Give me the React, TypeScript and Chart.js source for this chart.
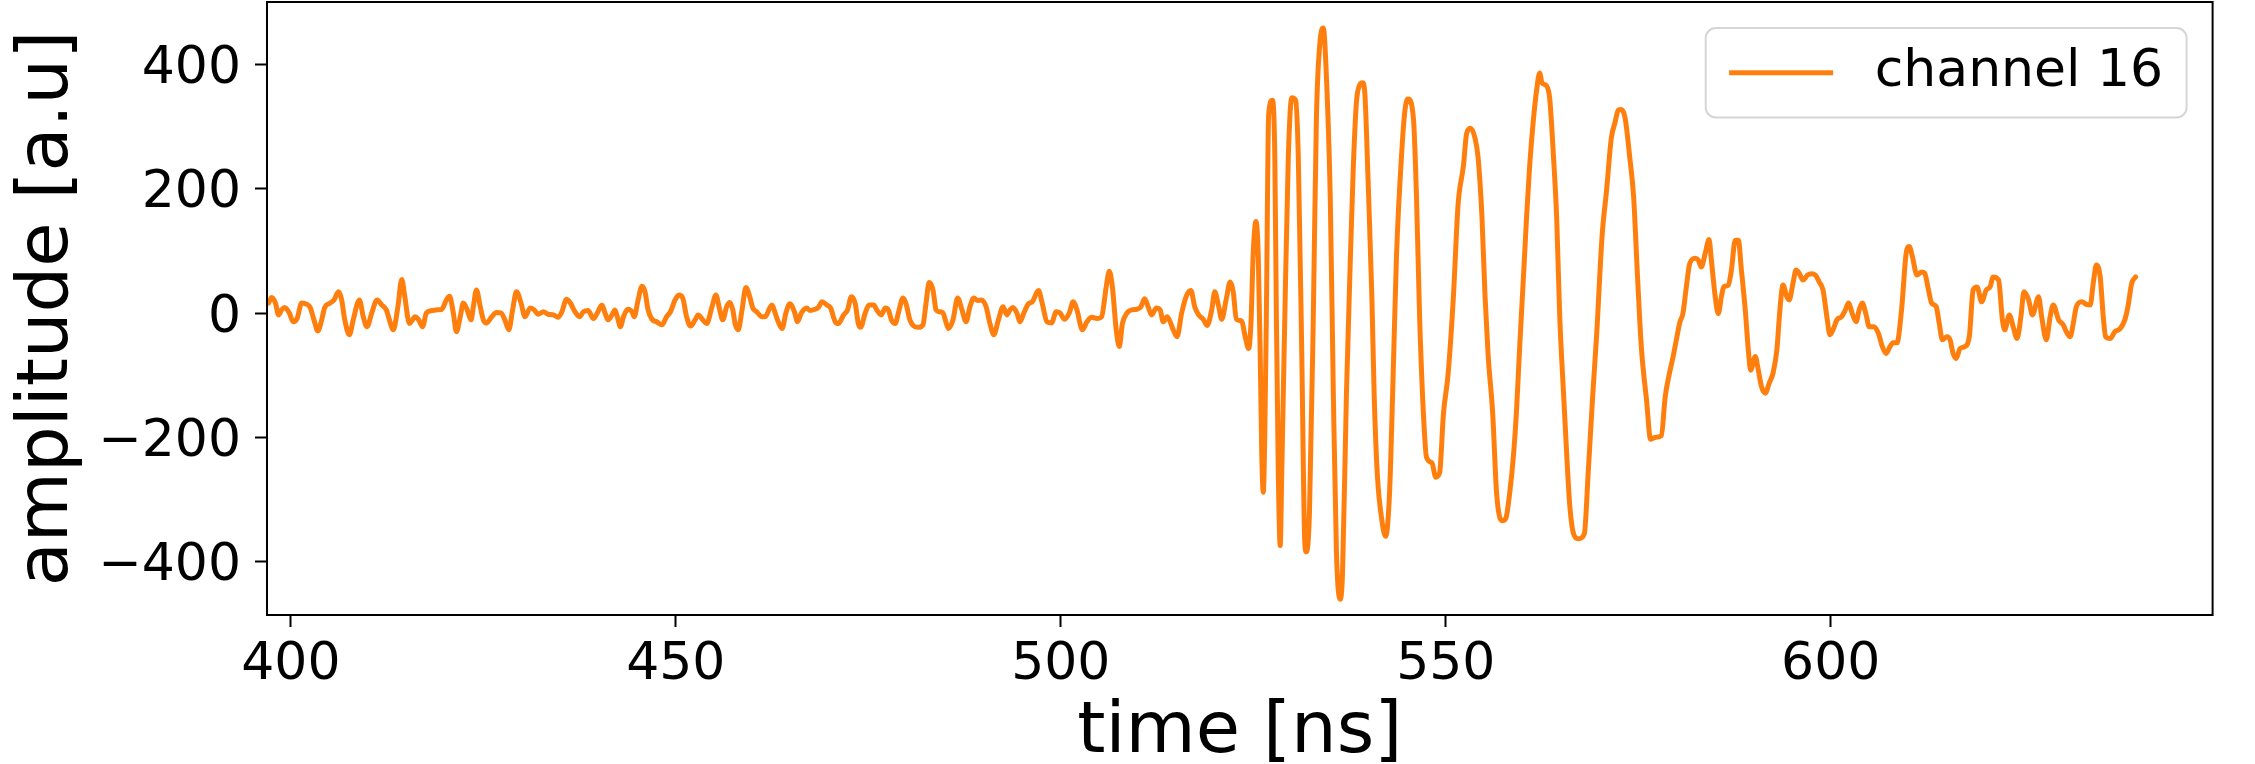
import React, { useEffect, useRef } from 'react';
import { Chart, registerables } from 'chart.js';

Chart.register(...registerables);

// ---------- data ----------
const seriesLabel = 'channel 16';
const xAxisTitle = 'time [ns]';
const yAxisTitle = 'amplitude [a.u]';
const xTickValues = [400, 450, 500, 550, 600];
const yTickValues = [-400, -200, 0, 200, 400];
const xLimits = [396.9, 649.6];
const yLimits = [-485.5, 500];

const timeNs = [
  397.1, 397.5, 398.0, 398.4, 398.8, 399.2, 399.8, 400.3, 400.8, 401.4,
  402.1, 402.5, 403.0, 403.5, 404.0, 404.4, 405.1, 405.6, 406.2, 406.6,
  407.0, 407.6, 408.1, 408.9, 409.4, 409.9, 410.5, 411.2, 411.8, 412.4,
  412.8, 413.3, 413.9, 414.4, 414.8, 415.4, 415.8, 416.1, 416.6, 417.1,
  417.6, 418.3, 418.9, 419.6, 420.2, 420.6, 421.1, 421.5, 422.0, 422.4,
  422.9, 423.4, 423.7, 424.1, 424.6, 425.0, 425.4, 426.1, 426.7, 427.3,
  427.8, 428.3, 428.8, 429.3, 429.9, 430.4, 431.1, 431.6, 432.1, 432.8,
  433.4, 434.1, 434.7, 435.2, 435.8, 436.3, 436.9, 437.5, 438.0, 438.6,
  439.3, 439.8, 440.4, 440.8, 441.2, 441.7, 442.1, 442.4, 442.8, 443.2,
  443.8, 444.3, 444.6, 445.1, 445.6, 446.0, 446.4, 446.9, 447.5, 448.2,
  448.8, 449.3, 449.9, 450.4, 450.9, 451.4, 451.9, 452.5, 452.9, 453.5,
  454.0, 454.7, 455.2, 455.7, 456.1, 456.6, 457.0, 457.4, 457.7, 458.1,
  458.6, 459.1, 459.6, 460.0, 460.5, 461.2, 461.6, 462.2, 462.5, 462.9,
  463.3, 463.8, 464.3, 464.8, 465.4, 465.8, 466.3, 467.0, 467.4, 468.1,
  468.5, 469.0, 469.6, 470.1, 470.7, 471.1, 471.8, 472.3, 472.8, 473.3,
  473.7, 474.0, 474.6, 475.1, 475.7, 476.1, 476.7, 477.2, 477.6, 478.0,
  478.5, 478.9, 479.5, 479.9, 480.4, 480.9, 481.5, 482.1, 482.5, 482.9,
  483.4, 483.8, 484.2, 484.7, 485.0, 485.4, 486.0, 486.6, 487.1, 487.7,
  488.2, 488.7, 489.2, 489.7, 490.3, 490.8, 491.3, 491.9, 492.5, 493.0,
  493.4, 493.8, 494.3, 494.7, 495.2, 495.8, 496.3, 497.1, 497.6, 498.2,
  498.8, 499.4, 499.9, 500.5, 501.1, 501.6, 502.1, 502.8, 503.4, 504.0,
  504.7, 505.3, 505.9, 506.3, 506.7, 507.2, 507.6, 508.0, 508.6, 509.2,
  509.9, 510.4, 510.9, 511.4, 511.8, 512.4, 512.9, 513.3, 513.8, 514.2,
  514.6, 515.1, 515.7, 516.3, 516.9, 517.4, 517.9, 518.5, 519.0, 519.6,
  520.0, 520.5, 520.9, 521.5, 522.0, 522.4, 522.8, 523.5, 523.9, 524.4,
  524.7, 525.0, 525.35, 525.65, 525.9, 526.1, 526.3, 526.5, 526.7, 527.0,
  527.5, 527.8, 528.0, 528.25, 528.5, 528.7, 529.1, 529.55, 530.0, 530.5,
  530.85, 531.3, 531.7, 531.9, 532.3, 532.8, 533.2, 533.7, 534.1, 534.4,
  535.0, 535.4, 535.8, 536.3, 536.6, 537.1, 537.7, 538.0, 538.4, 538.8,
  539.2, 539.5, 539.9, 540.4, 540.7, 541.1, 541.7, 542.2, 542.7, 543.1,
  543.6, 544.3, 544.7, 545.1, 545.8, 546.2, 546.6, 547.1, 547.5, 548.2,
  548.7, 549.2, 549.7, 550.3, 551.0, 551.6, 552.3, 552.7, 553.2, 553.8,
  554.2, 554.7, 555.1, 555.5, 556.1, 556.6, 557.3, 557.8, 558.3, 558.8,
  559.2, 559.6, 560.1, 560.5, 560.9, 561.4, 561.8, 562.2, 562.5, 563.1,
  563.5, 564.0, 564.4, 564.8, 565.3, 565.7, 566.1, 566.6, 567.2, 568.0,
  568.5, 569.1, 569.6, 570.3, 570.9, 571.5, 572.0, 572.4, 572.8, 573.3,
  573.9, 574.4, 574.9, 575.4, 576.1, 576.6, 577.2, 578.0, 578.5, 579.0,
  579.5, 580.0, 580.4, 580.8, 581.2, 581.7, 582.4, 582.8, 583.2, 583.7,
  584.2, 584.5, 585.0, 585.4, 585.8, 586.1, 586.7, 587.1, 587.6, 588.0,
  588.4, 588.9, 589.3, 589.6, 590.2, 590.6, 591.0, 591.5, 592.0, 592.5,
  593.0, 593.4, 593.8, 594.3, 594.6, 595.1, 595.5, 595.9, 596.4, 597.0,
  597.5, 598.0, 598.5, 599.0, 599.5, 599.9, 600.3, 600.8, 601.4, 601.9,
  602.3, 602.8, 603.3, 603.7, 604.1, 604.6, 605.0, 605.6, 606.2, 606.7,
  607.2, 607.7, 608.1, 608.6, 609.2, 609.8, 610.2, 610.6, 611.2, 611.8,
  612.2, 612.7, 613.1, 613.7, 614.1, 614.5, 615.1, 615.5, 615.9, 616.3,
  616.8, 617.4, 618.0, 618.5, 619.0, 619.6, 620.2, 620.7, 621.1, 621.8,
  622.3, 622.6, 623.2, 623.7, 624.2, 624.7, 625.1, 625.7, 626.2, 627.0,
  627.4, 628.0, 628.5, 628.9, 629.6, 630.2, 630.6, 631.1, 631.5, 631.9,
  632.6, 633.2, 633.7, 634.1, 634.5, 635.0, 635.4, 635.7, 636.3, 636.9,
  637.6, 638.2, 638.6, 639.1, 639.6,
];

const amplitude = [
  16, 25, 16, -3, 5, 9, 0, -14, -9, 16,
  14, 9, -11, -29, -11, 9, 16, 21, 34, 21,
  -11, -35, -11, 21, -6, -22, 0, 21, 13, 5,
  -11, -27, 10, 54, 26, -17, -11, -6, -11, -22,
  0, 4, 5, 6, 21, 27, 0, -30, -6, 16,
  5, -11, 10, 37, 10, -11, -16, -6, 1, 0,
  -11, -27, 5, 34, 16, -6, 8, 5, -2, 2,
  -2, -3, -7, 2, 22, 16, 2, -6, 2, 4,
  -9, 0, 13, 0, -11, -3, 5, -6, -22, -6,
  6, 2, -6, 21, 43, 34, 5, -10, -14, -19,
  -6, 2, 21, 29, 24, -6, -21, -11, -3, -11,
  -17, 10, 29, 5, -11, 10, 17, 5, -17, -27,
  5, 41, 26, 8, 2, -6, -6, 8, 13, 0,
  -14, -25, 0, 15, 2, -14, 0, 8, 4, 6,
  9, 18, 13, 8, -14, -17, -3, 5, 26, 15,
  -17, -23, 0, 13, 13, 5, -3, 8, 5, -11,
  -17, 0, 24, 15, -11, -21, -23, -19, 16, 49,
  37, 5, 2, 0, -11, -25, -11, 24, 8, -14,
  10, 24, 20, 21, 10, -17, -35, -11, 10, -3,
  5, 9, 0, -14, 0, 15, 18, 36, 15, -14,
  -16, 2, 0, -10, 0, 18, 5, -27, -14, -7,
  -9, -6, 42, 67, 42, -27, -54, -17, 0, 5,
  6, 10, 23, 8, -3, 8, 5, -14, -6, -14,
  -27, -38, 0, 27, 36, 10, -3, -10, -20, 5,
  34, 11, -10, 23, 50, 34, -10, -13, -35, -57,
  -16, 98, 147, 91, -67, -225, -288, -193, -4, 320,
  342, 250, -4, -257, -374, -257, -4, 250, 346, 342,
  250, -67, -371, -384, -320, -4, 313, 440, 458, 408,
  186, -130, -384, -460, -415, -130, 123, 237, 339, 366,
  370, 351, 218, 28, -130, -257, -333, -359, -289, -130,
  91, 262, 326, 344, 313, 187, -4, -162, -232, -241,
  -264, -257, -162, -99, 28, 174, 237, 288, 297, 281,
  250, 155, 28, -67, -162, -289, -334, -330, -290, -228,
  -155, -55, 60, 155, 237, 313, 358, 386, 370, 365,
  345, 250, 155, -4, -130, -225, -308, -355, -363, -355,
  -257, -130, -35, 123, 199, 281, 307, 326, 327, 313,
  250, 187, 60, -54, -143, -203, -200, -197, -135, -100,
  -72, -40, -15, -1, 37, 80, 88, 85, 74, 96,
  118, 85, 26, -1, 26, 42, 45, 69, 117, 117,
  69, 5, -60, -92, -70, -92, -118, -129, -113, -97,
  -60, 5, 45, 26, 21, 48, 69, 64, 53, 61,
  63, 61, 50, 37, -6, -35, -27, -11, -6, 5,
  16, -1, -14, 5, 16, -3, -22, -22, -33, -54,
  -65, -54, -48, -48, 5, 96, 107, 91, 61, 66,
  64, 37, 16, 10, -17, -43, -38, -43, -65, -73,
  -57, -54, -38, 37, 42, 18, 37, 42, 58, 53,
  -11, -27, -3, -22, -41, -6, 34, 21, -3, 26,
  -6, -43, -6, 13, -11, -19, -30, -38, -17, 10,
  18, 14, 13, 48, 77, 58, -6, -38, -41, -30,
  -25, -11, 10, 48, 58,
];

// ---------- styling ----------
const FONT = "'DejaVu Sans', 'Liberation Sans', sans-serif";
const LINE_COLOR = '#ff7f0e';
const TICK_FONT = 52;
const TITLE_FONT = 72;

const framePlugin = {
  id: 'mplFrame',
  afterDatasetsDraw(chart: any) {
    const { ctx, chartArea } = chart;
    ctx.save();
    ctx.strokeStyle = '#000000';
    ctx.lineWidth = 2;
    ctx.strokeRect(chartArea.left, chartArea.top, chartArea.right - chartArea.left, chartArea.bottom - chartArea.top);
    ctx.restore();
  },
};

const legendPlugin = {
  id: 'mplLegend',
  afterDraw(chart: any) {
    const ds = chart.data.datasets[0];
    const { ctx, chartArea } = chart;
    const fs = TICK_FONT;
    ctx.save();
    ctx.font = `${fs}px ${FONT}`;
    const tw = ctx.measureText(ds.label).width;
    const pad = 0.45 * fs;
    const handle = 2.0 * fs;
    const gap = 0.8 * fs;
    const w = pad + handle + gap + tw + pad;
    const h = 1.72 * fs;
    const right = chartArea.right - 0.5 * fs;
    const top = chartArea.top + 0.5 * fs;
    const left = right - w;
    ctx.beginPath();
    if ((ctx as any).roundRect) (ctx as any).roundRect(left, top, w, h, 10);
    else ctx.rect(left, top, w, h);
    ctx.fillStyle = 'rgba(255,255,255,0.8)';
    ctx.fill();
    ctx.strokeStyle = '#d6d6d6';
    ctx.lineWidth = 2;
    ctx.stroke();
    const cy = top + h / 2;
    ctx.strokeStyle = ds.borderColor;
    ctx.lineWidth = ds.borderWidth;
    ctx.beginPath();
    ctx.moveTo(left + pad, cy);
    ctx.lineTo(left + pad + handle, cy);
    ctx.stroke();
    ctx.fillStyle = '#000000';
    ctx.textBaseline = 'middle';
    ctx.textAlign = 'left';
    ctx.fillText(ds.label, left + pad + handle + gap, cy);
    ctx.restore();
  },
};

const fmt = (v: number) => (v < 0 ? '\u2212' + Math.abs(v) : String(v));

export default function App() {
  const canvasRef = useRef<HTMLCanvasElement | null>(null);

  useEffect(() => {
    const canvas = canvasRef.current;
    if (!canvas) return;
    const points = timeNs.map((t, i) => ({ x: t, y: amplitude[i] }));
    const chart = new Chart(canvas, {
      type: 'line',
      data: {
        datasets: [
          {
            label: seriesLabel,
            data: points,
            borderColor: LINE_COLOR,
            backgroundColor: LINE_COLOR,
            borderWidth: 5,
            pointRadius: 0,
            pointHoverRadius: 0,
            cubicInterpolationMode: 'monotone',
            fill: false,
            borderJoinStyle: 'round',
            borderCapStyle: 'round',
          },
        ],
      },
      options: {
        animation: false,
        responsive: false,
        devicePixelRatio: 1,
        events: [],
        layout: { padding: { top: 2, right: 42.4, left: 0, bottom: 0 } },
        plugins: {
          legend: { display: false },
          tooltip: { enabled: false },
          title: { display: false },
        },
        scales: {
          x: {
            type: 'linear',
            position: 'bottom',
            min: xLimits[0],
            max: xLimits[1],
            afterBuildTicks: (axis: any) => {
              axis.ticks = xTickValues.map((v) => ({ value: v }));
            },
            afterFit: (axis: any) => {
              axis.height = 149;
              axis.paddingLeft = 0;
              axis.paddingRight = 0;
              axis.paddingTop = 0;
              axis.paddingBottom = 0;
            },
            grid: {
              display: true,
              drawOnChartArea: false,
              drawTicks: true,
              tickLength: 12,
              tickWidth: 2,
              tickColor: '#000000',
            },
            border: { display: false },
            ticks: {
              color: '#000000',
              font: { family: FONT, size: TICK_FONT },
              padding: 7,
              maxRotation: 0,
              autoSkip: false,
              callback: (v: any) => fmt(Number(v)),
            },
            title: {
              display: true,
              text: xAxisTitle,
              color: '#000000',
              font: { family: FONT, size: TITLE_FONT, lineHeight: 0.85 },
              padding: { top: 0, bottom: 0 },
            },
          },
          y: {
            type: 'linear',
            position: 'left',
            min: yLimits[0],
            max: yLimits[1],
            afterBuildTicks: (axis: any) => {
              axis.ticks = yTickValues.map((v) => ({ value: v }));
            },
            afterFit: (axis: any) => {
              axis.width = 267;
              axis.paddingLeft = 0;
              axis.paddingRight = 0;
              axis.paddingTop = 0;
              axis.paddingBottom = 0;
            },
            grid: {
              display: true,
              drawOnChartArea: false,
              drawTicks: true,
              tickLength: 12,
              tickWidth: 2,
              tickColor: '#000000',
            },
            border: { display: false },
            ticks: {
              color: '#000000',
              font: { family: FONT, size: TICK_FONT },
              padding: 14,
              labelOffset: 5,
              autoSkip: false,
              callback: (v: any) => fmt(Number(v)),
            },
            title: {
              display: true,
              text: yAxisTitle,
              color: '#000000',
              font: { family: FONT, size: TITLE_FONT, lineHeight: 1 },
              padding: { top: 12, bottom: 0 },
            },
          },
        },
      },
      plugins: [framePlugin, legendPlugin],
    } as any);
    return () => chart.destroy();
  }, []);

  return (
    <div style={{ position: 'absolute', left: 0, top: 0, width: 2255, height: 764, background: '#ffffff' }}>
      <canvas ref={canvasRef} width={2255} height={764} style={{ display: 'block', width: 2255, height: 764 }} />
    </div>
  );
}
